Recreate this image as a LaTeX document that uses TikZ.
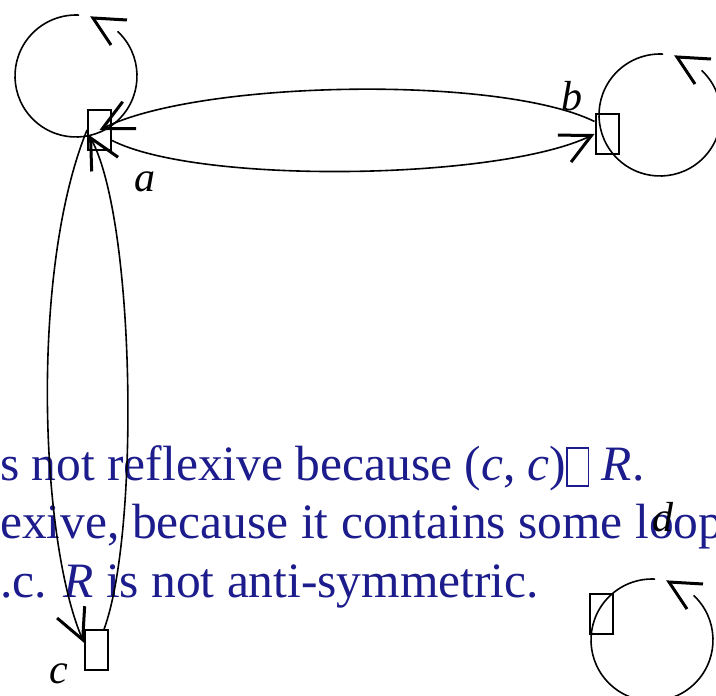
\documentclass[tikz,border=0pt]{standalone}
\usepackage{fontspec}
\setmainfont{Liberation Serif}
\usetikzlibrary{arrows.meta,calc}
\definecolor{textblue}{RGB}{28,28,140}
\newcommand{\glyphbox}{\raisebox{-5pt}{\fboxsep=0pt\fboxrule=1.8pt\fbox{\rule{0pt}{36.4pt}\hspace{19.4pt}}}}
\tikzset{
  vertex/.style={draw,line width=2pt,minimum width=23pt,minimum height=40pt,inner sep=0pt},
  vlabel/.style={inner sep=0pt,font=\fontsize{42}{42}\selectfont\itshape},
  para/.style={inner sep=0pt,anchor=base west,text=textblue,font=\fontsize{49.5}{58}\selectfont},
  edge/.style={line width=1.6pt},
  bigtip/.style={-{Straight Barb[length=30pt,width=30pt,line width=3pt]}},
  selfloop/.pic={
    \draw[line width=1.6pt] (-47:61) arc[start angle=-47,end angle=273,radius=61];
    \draw[line width=3pt] (51,-56) -- (17,-58) -- (35,-31);
  }
}
\begin{document}
\begin{tikzpicture}[x=1pt,y=-1pt]
    \useasboundingbox (0,0) rectangle (716,696);
    \clip (0,0) rectangle (716,696);
    % text behind the graph
    \node[para] (line1) at (0,480) {s not reflexive because (\textit{c}, \textit{c})\glyphbox\ \textit{R}.};
    \node[para] (line2) at (0,538) {exive, because it contains some loop};
    \node[para] (line3) at (0,597) {.c. \textit{R} is not anti-symmetric.};
    % vertices and their names
    \node[vertex] (a) at (99.5,130) {};
    \node[vertex] (b) at (607,134) {};
    \node[vertex] (c) at (96.5,650) {};
    \node[vertex] (d) at (601.5,614) {};
    \node[vlabel] (la) at (145,182) {a};
    \node[vlabel] (lb) at (572,96) {b};
    \node[vlabel] (lc) at (59,674) {c};
    \node[vlabel] (ld) at (663,517) {d};
    % edges
    \draw[edge,bigtip] (b.135) .. controls (500,75) and (200,80) .. (a.center);
    \draw[edge,bigtip] (a.-40) .. controls (200,185) and (500,180) .. (b.west);
    \draw[edge,bigtip] (a.west) .. controls (30,270) and (40,540) .. (c.150);
    \draw[edge,bigtip] (c.70) .. controls (140,530) and (135,220) .. ($(a.west)+(2,5)$);
    % loops
    \pic at ($(a.center)+(-23.5,-54)$) {selfloop};
    \pic at ($(b.center)+(53,-19)$) {selfloop};
    \pic at ($(d.center)+(50.5,26)$) {selfloop};
\end{tikzpicture}
\end{document}
